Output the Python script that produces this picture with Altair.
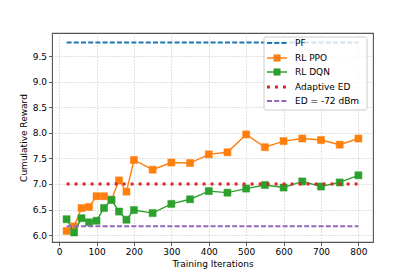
import altair as alt
import pandas as pd

iterations = [20, 40, 60, 80, 100, 120, 140, 160, 180, 200, 250, 300, 350, 400,
              450, 500, 550, 600, 650, 700, 750, 800]
rl_ppo = [6.08, 6.17, 6.53, 6.55, 6.76, 6.76, 6.69, 7.07, 6.85, 7.47, 7.28, 7.42,
          7.41, 7.58, 7.62, 7.97, 7.72, 7.84, 7.89, 7.86, 7.77, 7.89]
rl_dqn = [6.31, 6.05, 6.33, 6.25, 6.28, 6.53, 6.69, 6.46, 6.30, 6.49, 6.43, 6.61,
          6.70, 6.86, 6.83, 6.91, 6.98, 6.93, 7.05, 6.95, 7.03, 7.17]
pf_value = 9.77
adaptive_ed_value = 7.0
ed72_value = 6.17
span = [20, 800]

x_ticks = [0, 100, 200, 300, 400, 500, 600, 700, 800]
y_ticks = [6.0, 6.5, 7.0, 7.5, 8.0, 8.5, 9.0, 9.5]
legend_labels = ["PF", "RL PPO", "RL DQN", "Adaptive ED", "ED = -72 dBm"]

BLUE, ORANGE, GREEN, RED, PURPLE = "#1f77b4", "#ff7f0e", "#2ca02c", "#d62728", "#9467bd"

xs = alt.Scale(domain=[-19, 839], nice=False, zero=False)
ys = alt.Scale(domain=[5.864, 9.956], nice=False, zero=False)

xaxis = alt.Axis(values=x_ticks, title="Training Iterations", format="d",
                 grid=True, gridDash=[1, 2], gridColor="#b0b0b0", gridWidth=0.8)
yaxis = alt.Axis(values=y_ticks, title="Cumulative Reward", format=".1f",
                 grid=True, gridDash=[1, 2], gridColor="#b0b0b0", gridWidth=0.8)

def hline(value, color, dash, width):
    df = pd.DataFrame({"x": [span[0]], "x2": [span[1]], "y": [value]})
    return alt.Chart(df).mark_rule(color=color, strokeDash=dash, strokeWidth=width).encode(
        x=alt.X("x:Q", scale=xs, axis=xaxis),
        x2="x2:Q",
        y=alt.Y("y:Q", scale=ys, axis=yaxis),
    )

def series(values, color):
    df = pd.DataFrame({"x": iterations, "y": values})
    base = alt.Chart(df).encode(
        x=alt.X("x:Q", scale=xs, axis=xaxis),
        y=alt.Y("y:Q", scale=ys, axis=yaxis),
    )
    return base.mark_line(color=color, strokeWidth=1.4) + base.mark_point(
        shape="square", filled=True, size=50, color=color, opacity=1,
        stroke=color, strokeOpacity=0.5, strokeWidth=1)

pf = hline(pf_value, BLUE, [5, 2.2], 2)
ppo = series(rl_ppo, ORANGE)
dqn = series(rl_dqn, GREEN)
ada = hline(adaptive_ed_value, RED, [3, 5], 3)
ed = hline(ed72_value, PURPLE, [5, 2.2], 2)

# legend
legend_layers = []
box = alt.Chart(pd.DataFrame({"a": [0]})).mark_rect(
    fill="white", fillOpacity=0.8, stroke="#cccccc", strokeWidth=1, cornerRadius=2
).encode(x=alt.value(212), x2=alt.value(315), y=alt.value(4), y2=alt.value(77))
legend_layers.append(box)
styles = [
    (BLUE, [5, 2.2], 2, False),
    (ORANGE, [1, 0], 1.4, True),
    (GREEN, [1, 0], 1.4, True),
    (RED, [3, 5], 3, False),
    (PURPLE, [5, 2.2], 2, False),
]
row_y = [10, 25, 39, 54, 68]
for label, (color, dash, w, marker), yy in zip(legend_labels, styles, row_y):
    d = pd.DataFrame({"label": [label]})
    legend_layers.append(alt.Chart(d).mark_rule(color=color, strokeDash=dash, strokeWidth=w).encode(
        x=alt.value(215), x2=alt.value(235), y=alt.value(yy)))
    if marker:
        legend_layers.append(alt.Chart(d).mark_point(
            shape="square", filled=True, size=50, color=color, opacity=1).encode(
            x=alt.value(225), y=alt.value(yy)))
    legend_layers.append(alt.Chart(d).mark_text(
        align="left", baseline="middle", fontSize=9, font="DejaVu Sans", color="black").encode(
        x=alt.value(243), y=alt.value(yy), text="label:N"))

chart = alt.layer(pf, ppo, dqn, ada, ed, *legend_layers).properties(
    width=321, height=209,
    autosize=alt.AutoSizeParams(type="none"),
    padding={"left": 44, "top": 25, "right": 30, "bottom": 34},
).configure_view(
    stroke="#555555", strokeWidth=1.1
).configure_axis(
    domain=False, labelFont="DejaVu Sans", titleFont="DejaVu Sans",
    labelFontSize=9, titleFontSize=9, titleFontWeight="normal",
    labelColor="black", titleColor="black", tickColor="#333333",
    tickSize=3.5, tickWidth=0.8, labelPadding=2,
).configure_axisX(titlePadding=3).configure_axisY(titlePadding=4)

chart.save("out.html", embed_options={"renderer": "svg", "actions": False})
